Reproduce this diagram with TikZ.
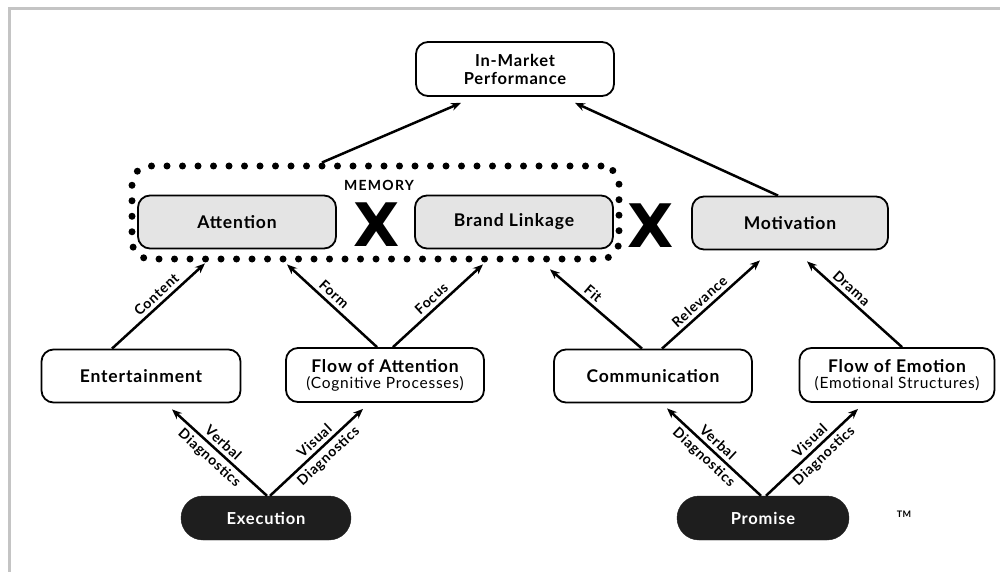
\documentclass[tikz,border=0pt]{standalone}
\usepackage{fontspec}
\setmainfont{Lato}[LetterSpace=5]
\newfontfamily\xfont{DejaVu Sans}
\usetikzlibrary{arrows.meta}
\definecolor{boxgrey}{HTML}{E4E4E4}
\definecolor{pillblack}{HTML}{1E1E1E}
\definecolor{framegrey}{HTML}{C4C4C4}
\begin{document}
\begin{tikzpicture}[x=1pt,y=-1pt,
  box/.style={draw, line width=1.8pt, rounded corners=12pt, align=center, minimum width=198pt, minimum height=53pt, inner sep=0pt, font=\fontsize{17.5}{19}\selectfont\bfseries},
  gbox/.style={box, fill=boxgrey},
  pill/.style={draw=pillblack, fill=pillblack, rounded corners=22pt, minimum height=44pt, inner sep=0pt, text=white, font=\fontsize{16.5}{18}\selectfont\bfseries},
  arr/.style={-{Stealth[length=10pt,width=8pt]}, line width=2.5pt},
  lab/.style={sloped, font=\fontsize{14}{16}\selectfont\bfseries, inner sep=3.5pt},
  bigx/.style={font=\fontsize{60}{60}\selectfont\xfont\bfseries, inner sep=0pt},
  memline/.style={draw, line width=7pt, dash pattern=on 0pt off 15.5pt, line cap=round, rounded corners=18pt}
]
\useasboundingbox (0,0) rectangle (1000,572);
\draw[framegrey, line width=3pt] (9.5,572) -- (9.5,8.5) -- (1000,8.5);

% nodes
\node[box, minimum height=54pt, font=\fontsize{16.5}{18}\selectfont\bfseries] (imp) at (515,69) {In-Market\\Performance};
\node[memline, minimum width=487pt, minimum height=93pt] (mem) at (375.5,212.5) {};
\node[font=\fontsize{14}{16}\selectfont\bfseries\addfontfeatures{LetterSpace=9}] (memlab) at (379,185) {MEMORY};
\node[gbox] (att) at (237,222) {Attention};
\node[gbox] (bl) at (514,222) {Brand Linkage};
\node[gbox, minimum width=196pt] (mot) at (790,223) {Motivation};
\node[bigx] (x1) at (377,225) {X};
\node[bigx] (x2) at (651,226) {X};

\node[box, minimum width=199pt] (ent) at (141,376) {Entertainment};
\node[box, minimum height=54pt] (foa) at (385,375) {Flow of Attention\\[-3pt]{\mdseries\fontsize{15.5}{17}\selectfont (Cognitive Processes)}};
\node[box] (com) at (653,376) {Communication};
\node[box, minimum width=195pt, minimum height=54pt] (foe) at (897,375) {Flow of Emotion\\[-3pt]{\mdseries\fontsize{15.5}{17}\selectfont (Emotional Structures)}};

\node[pill, minimum width=170pt] (exe) at (266,518) {Execution};
\node[pill, minimum width=172pt] (pro) at (763,518) {Promise};
\node[font=\fontsize{9}{10}\selectfont\bfseries] (tm) at (904,514) {TM};

% connectors
\draw[arr] ([xshift=-53.5pt]mem.north) -- ([xshift=-54pt,yshift=-6pt]imp.south);
\draw[arr] ([xshift=-12pt]mot.north) -- ([xshift=60pt,yshift=-6pt]imp.south);

\draw[arr] ([xshift=-29pt]ent.north) -- node[lab,above,pos=0.55]{Content} ([xshift=-32pt,yshift=-14pt]att.south);
\draw[arr] ([xshift=-8pt]foa.north) -- node[lab,above,pos=0.55]{Form} ([xshift=50pt,yshift=-15pt]att.south);
\draw[arr] ([xshift=8pt]foa.north) -- node[lab,above,pos=0.5]{Focus} ([xshift=-31pt,yshift=-15pt]bl.south);
\draw[arr] ([xshift=-11pt]com.north) -- node[lab,above,pos=0.6]{Fit} ([xshift=36pt,yshift=-20pt]bl.south);
\draw[arr] ([xshift=9pt]com.north) -- node[lab,above,pos=0.45]{Relevance} ([xshift=-30pt,yshift=-10pt]mot.south);
\draw[arr] ([xshift=5pt]foe.north) -- node[lab,above,pos=0.6]{Drama} ([xshift=17pt,yshift=-11pt]mot.south);

\draw[arr] ([xshift=1pt]exe.north) -- node[lab,above,pos=0.53]{Verbal} node[lab,below,pos=0.53]{Diagnostics} ([xshift=31pt,yshift=-6pt]ent.south);
\draw[arr] ([xshift=4pt]exe.north) -- node[lab,above,pos=0.55]{Visual} node[lab,below,pos=0.55]{Diagnostics} ([xshift=-22pt,yshift=-6pt]foa.south);
\draw[arr] ([xshift=-2pt]pro.north) -- node[lab,above,pos=0.53]{Verbal} node[lab,below,pos=0.53]{Diagnostics} ([xshift=14pt,yshift=-5pt]com.south);
\draw[arr] ([xshift=3pt]pro.north) -- node[lab,above,pos=0.55]{Visual} node[lab,below,pos=0.55]{Diagnostics} ([xshift=-39pt,yshift=-6pt]foe.south);
\end{tikzpicture}
\end{document}
